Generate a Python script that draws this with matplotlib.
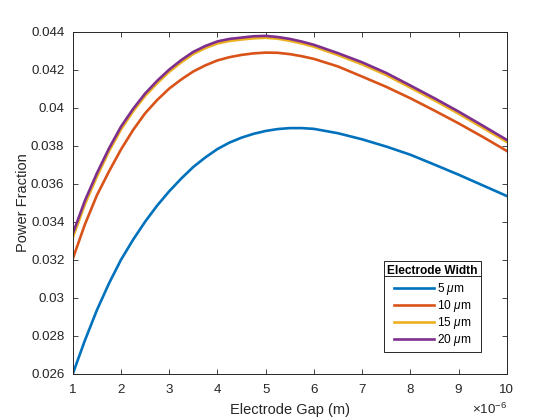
import numpy as np
import matplotlib
matplotlib.use('Agg')
import matplotlib.pyplot as plt
from matplotlib.ticker import FuncFormatter
from matplotlib.lines import Line2D

plt.rcParams['font.family'] = ['Liberation Sans', 'DejaVu Sans']
plt.rcParams['mathtext.fontset'] = 'custom'
plt.rcParams['mathtext.rm'] = 'Liberation Sans'
plt.rcParams['mathtext.it'] = 'Liberation Sans:italic'

# electrode gap in micrometres (plotted in metres)
gap_um = [1, 1.25, 1.5, 1.75, 2, 2.25, 2.5, 2.75, 3, 3.25, 3.5, 3.75, 4, 4.25, 4.5,
          4.75, 5, 5.25, 5.5, 5.75, 6, 6.5, 7, 7.5, 8, 8.5, 9, 9.5, 10]

w5 = [0.02600, 0.02775, 0.02935, 0.03075, 0.03200, 0.03305, 0.03400, 0.03485, 0.03560, 0.03627,
      0.03688, 0.03738, 0.03782, 0.03816, 0.03842, 0.03862, 0.03877, 0.03887, 0.03892, 0.03892,
      0.03888, 0.03865, 0.03833, 0.03795, 0.03752, 0.03700, 0.03647, 0.03591, 0.03535]
w10 = [0.03205, 0.03385, 0.03539, 0.03664, 0.03780, 0.03882, 0.03970, 0.04040, 0.04100, 0.04148,
       0.04190, 0.04222, 0.04248, 0.04265, 0.04277, 0.04285, 0.04289, 0.04288, 0.04281, 0.04270,
       0.04256, 0.04216, 0.04163, 0.04109, 0.04049, 0.03984, 0.03917, 0.03846, 0.03772]
w15 = [0.03316, 0.03490, 0.03637, 0.03770, 0.03885, 0.03980, 0.04061, 0.04128, 0.04188, 0.04238,
       0.04282, 0.04313, 0.04337, 0.04350, 0.04358, 0.04364, 0.04367, 0.04362, 0.04351, 0.04337,
       0.04320, 0.04276, 0.04227, 0.04171, 0.04105, 0.04038, 0.03968, 0.03894, 0.03819]
w20 = [0.03337, 0.03510, 0.03655, 0.03785, 0.03900, 0.03993, 0.04074, 0.04141, 0.04200, 0.04250,
       0.04293, 0.04324, 0.04348, 0.04361, 0.04368, 0.04375, 0.04377, 0.04371, 0.04361, 0.04347,
       0.04330, 0.04286, 0.04238, 0.04182, 0.04116, 0.04049, 0.03979, 0.03905, 0.03830]

labels = ['5 $\\mu$m', '10 $\\mu$m', '15 $\\mu$m', '20 $\\mu$m']
colors = ['#0072BD', '#D95319', '#EDB120', '#7E2F8E']
yticks = [0.026, 0.028, 0.030, 0.032, 0.034, 0.036, 0.038, 0.040, 0.042, 0.044]

ink = '#262626'
fig = plt.figure(figsize=(5.6, 4.2), dpi=100)
ax = fig.add_axes([0.13, 0.11, 0.775, 0.815])

x = np.array(gap_um) * 1e-6
for ys, c, lab in zip([w5, w10, w15, w20], colors, labels):
    ax.plot(x, ys, color=c, lw=1.9, label=lab, solid_joinstyle='round')

ax.set_xlim(1e-6, 10e-6)
ax.set_ylim(0.026, 0.044)
ax.set_yticks(yticks)
ax.yaxis.set_major_formatter(FuncFormatter(lambda v, p: f'{round(v, 4):g}'))
ax.set_xticks(np.arange(1, 11) * 1e-6)
ax.xaxis.set_major_formatter(FuncFormatter(lambda v, p: f'{round(v * 1e6, 3):g}'))
ax.text(1.0, -0.118, r'$\times 10^{-6}$', transform=ax.transAxes, ha='right', va='baseline',
        fontsize=9.6, color=ink)

ax.tick_params(direction='in', top=True, right=True, length=3.5, width=0.6,
               colors=ink, labelsize=9.6)
ax.tick_params(axis='x', pad=7.5)
ax.tick_params(axis='y', pad=6)
for s in ax.spines.values():
    s.set_color(ink)
    s.set_linewidth(0.7)

ax.set_xlabel('Electrode Gap (m)', fontsize=10.5, color=ink, labelpad=5)
ax.set_ylabel('Power Fraction', fontsize=10.5, color=ink, labelpad=1)

leg = ax.legend(loc='lower right', bbox_to_anchor=(0.9406, 0.0646), borderaxespad=0,
                title='Electrode Width',
                title_fontproperties={'weight': 'bold', 'size': 8.6}, fontsize=8.6,
                frameon=True, fancybox=False, edgecolor=ink, framealpha=1,
                handlelength=3.35, handletextpad=0.2, borderpad=0.28, labelspacing=0.08)
leg.get_frame().set_linewidth(0.7)
leg._legend_box.sep = 3.5  # gap between title and entries

# separator line under the legend title
fig.canvas.draw()
r = fig.canvas.get_renderer()
fb = leg.get_frame().get_window_extent(r)
tb = leg.get_title().get_window_extent(r)
yline = tb.y0 + 0.5
fig.add_artist(Line2D([fb.x0 / fig.bbox.width, fb.x1 / fig.bbox.width],
                      [yline / fig.bbox.height] * 2, color=ink, lw=0.7))

fig.savefig('out.png', dpi=100, facecolor='white')
